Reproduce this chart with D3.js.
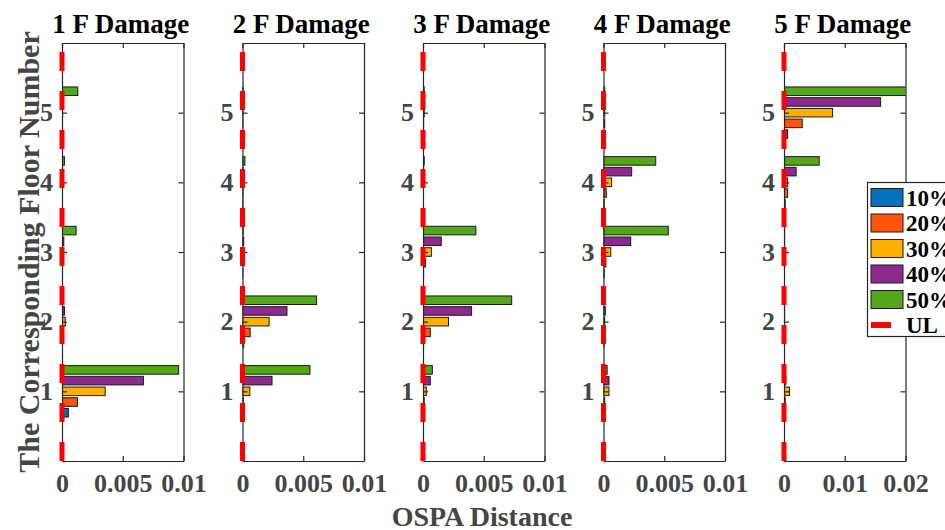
<!DOCTYPE html>
<html>
<head>
<meta charset="utf-8">
<script src="https://cdn.jsdelivr.net/npm/d3@7"></script>
<style>
  body { margin: 0; background: #fff; }
  svg { display: block; font-family: "Liberation Serif", "Times New Roman", serif; font-weight: bold; }
</style>
</head>
<body>
<div id="chart"></div>
<script>
// floors on the y axis, one group of bars per floor
const floors = [1, 2, 3, 4, 5];
const seriesNames = ["10%", "20%", "30%", "40%", "50%"];
const seriesColors = ["#0072BD", "#FF5508", "#FFB000", "#8E2A8E", "#52A815"];
const panelTitles = ["1 F Damage", "2 F Damage", "3 F Damage", "4 F Damage", "5 F Damage"];
const ulValue = 0;

// rows = damage level (10%..50%), columns = floor 1..5
const damage1F = [
    [0.00052, 0.00003, 0.00002, 0.00002, 0.00002],
    [0.00127, 0.00010, 0.00005, 0.00004, 0.00004],
    [0.00355, 0.00027, 0.00005, 0.00004, 0.00005],
    [0.00670, 0.00020, 0.00015, 0.00005, 0.00005],
    [0.00960, 0.00005, 0.00116, 0.00020, 0.00130]
];
const damage2F = [
    [0.00002, 0.00010, 0.00002, 0.00002, 0.00002],
    [0.00005, 0.00063, 0.00003, 0.00003, 0.00002],
    [0.00060, 0.00219, 0.00005, 0.00005, 0.00003],
    [0.00243, 0.00366, 0.00010, 0.00005, 0.00005],
    [0.00555, 0.00610, 0.00005, 0.00020, 0.00005]
];
const damage3F = [
    [0.00005, 0.00005, 0.00005, 0.00002, 0.00002],
    [0.00010, 0.00060, 0.00020, 0.00003, 0.00005],
    [0.00027, 0.00210, 0.00069, 0.00003, 0.00010],
    [0.00060, 0.00400, 0.00150, 0.00005, 0.00010],
    [0.00077, 0.00730, 0.00435, 0.00010, 0.00010]
];
const damage4F = [
    [0.00005, 0.00003, 0.00005, 0.00005, 0.00002],
    [0.00010, 0.00005, 0.00020, 0.00023, 0.00010],
    [0.00045, 0.00010, 0.00060, 0.00067, 0.00010],
    [0.00045, 0.00015, 0.00224, 0.00232, 0.00010],
    [0.00030, 0.00005, 0.00533, 0.00430, 0.00010]
];
const damage5F = [
    [0.00010, 0.00005, 0.00005, 0.00020, 0.00060],
    [0.00020, 0.00010, 0.00010, 0.00060, 0.00300],
    [0.00090, 0.00010, 0.00010, 0.00060, 0.00800],
    [0.00030, 0.00010, 0.00010, 0.00200, 0.01590],
    [0.00020, 0.00010, 0.00010, 0.00580, 0.02050]
];
const panelData = [damage1F, damage2F, damage3F, damage4F, damage5F];

const xMaxes = [0.01, 0.01, 0.01, 0.01, 0.02];
const xTicks = [
    [0, 0.005, 0.01], [0, 0.005, 0.01], [0, 0.005, 0.01], [0, 0.005, 0.01], [0, 0.01, 0.02]
];
const xTickLabels = [
    ["0", "0.005", "0.01"], ["0", "0.005", "0.01"], ["0", "0.005", "0.01"],
    ["0", "0.005", "0.01"], ["0", "0.01", "0.02"]
];

const width = 945, height = 530;
const plotTop = 43, plotBottom = 461;
const panelLefts = [62, 242.5, 423, 603.5, 784];
const panelWidth = 121.5;
const axisColor = "#262626";
const labelColor = "#454545";

const svg = d3.select("#chart").append("svg")
    .attr("width", width)
    .attr("height", height);

const yScale = d3.scaleLinear().domain([0, 6]).range([plotBottom, plotTop]);

// MATLAB-style grouped barh: 5 series inside a group width of ~0.77
const groupWidth = 0.769;
const step = groupWidth / seriesNames.length;
const barThick = step * 0.8;

panelData.forEach((rows, p) => {
    const left = panelLefts[p], right = left + panelWidth;
    const xScale = d3.scaleLinear().domain([0, xMaxes[p]]).range([left, right]);

    const g = svg.append("g");

    g.append("clipPath").attr("id", "clip" + p)
        .append("rect")
        .attr("x", left).attr("y", plotTop)
        .attr("width", panelWidth).attr("height", plotBottom - plotTop);

    const bars = g.append("g").attr("clip-path", `url(#clip${p})`);

    rows.forEach((vals, s) => {
        const offset = (s - (seriesNames.length - 1) / 2) * step;
        bars.selectAll(null)
            .data(vals.map((v, i) => ({floor: floors[i], v: v})))
            .join("rect")
            .attr("x", xScale(0))
            .attr("y", d => yScale(d.floor + offset + barThick / 2))
            .attr("width", d => xScale(d.v) - xScale(0))
            .attr("height", d => yScale(d.floor + offset - barThick / 2) - yScale(d.floor + offset + barThick / 2))
            .attr("fill", seriesColors[s])
            .attr("stroke", "#1a1a1a")
            .attr("stroke-width", 1);
    });

    // axes box with inward ticks
    g.append("g")
        .attr("transform", `translate(0,${plotBottom})`)
        .call(d3.axisBottom(xScale).tickValues(xTicks[p])
            .tickFormat((d, i) => xTickLabels[p][i])
            .tickSize(-5).tickSizeOuter(0).tickPadding(13))
        .call(a => a.selectAll("text").attr("font-size", 26).attr("fill", labelColor)
            .attr("font-family", "Liberation Serif").attr("font-weight", "bold"));

    g.append("g")
        .attr("transform", `translate(0,${plotTop})`)
        .call(d3.axisTop(xScale).tickValues(xTicks[p]).tickFormat("")
            .tickSize(-5).tickSizeOuter(0));

    g.append("g")
        .attr("transform", `translate(${left},0)`)
        .call(d3.axisLeft(yScale).tickValues(floors).tickFormat(d3.format("d"))
            .tickSize(-5).tickSizeOuter(0).tickPadding(9))
        .call(a => a.selectAll("text").attr("font-size", 26).attr("fill", labelColor)
            .attr("font-family", "Liberation Serif").attr("font-weight", "bold"));

    g.append("g")
        .attr("transform", `translate(${right},0)`)
        .call(d3.axisRight(yScale).tickValues(floors).tickFormat("")
            .tickSize(-5).tickSizeOuter(0));

    g.selectAll(".domain, .tick line").attr("stroke", axisColor).attr("stroke-width", 1.2);

    // UL dashed line
    g.append("path")
        .datum([[ulValue, 0], [ulValue, 6]])
        .attr("d", d3.line().x(d => xScale(d[0])).y(d => yScale(d[1])))
        .attr("stroke", "#ff0000")
        .attr("stroke-width", 5)
        .attr("stroke-dasharray", "19,20")
        .attr("fill", "none");

    g.append("text")
        .attr("x", (left + right) / 2 - 2)
        .attr("y", 33)
        .attr("text-anchor", "middle")
        .attr("font-size", 27)
        .attr("fill", "#000")
        .text(panelTitles[p]);
});

svg.append("text")
    .attr("transform", `translate(39,${(plotTop + plotBottom) / 2}) rotate(-90)`)
    .attr("text-anchor", "middle")
    .attr("font-size", 30)
    .attr("fill", labelColor)
    .text("The Corresponding Floor Number");

svg.append("text")
    .attr("x", 482)
    .attr("y", 526)
    .attr("text-anchor", "middle")
    .attr("font-size", 28)
    .attr("fill", labelColor)
    .text("OSPA Distance");

// legend (cut by the right edge, as in the original figure)
const legend = svg.append("g");
legend.append("rect")
    .attr("x", 867.5).attr("y", 182.5)
    .attr("width", 100).attr("height", 154)
    .attr("fill", "#fff").attr("stroke", axisColor).attr("stroke-width", 1.2);

const legendNames = seriesNames.concat(["UL"]);
const legendY = d3.scalePoint().domain(legendNames).range([197.5, 325]);

legendNames.forEach((name, i) => {
    const cy = legendY(name);
    if (i < seriesNames.length) {
        legend.append("rect")
            .attr("x", 871).attr("y", cy - 9)
            .attr("width", 32).attr("height", 18)
            .attr("fill", seriesColors[i])
            .attr("stroke", "#1a1a1a").attr("stroke-width", 1);
    } else {
        legend.append("line")
            .attr("x1", 871).attr("x2", 891)
            .attr("y1", cy).attr("y2", cy)
            .attr("stroke", "#ff0000").attr("stroke-width", 6);
    }
    legend.append("text")
        .attr("x", 906).attr("y", cy + 8)
        .attr("font-size", 23)
        .attr("fill", "#000")
        .text(name);
});
</script>
</body>
</html>
